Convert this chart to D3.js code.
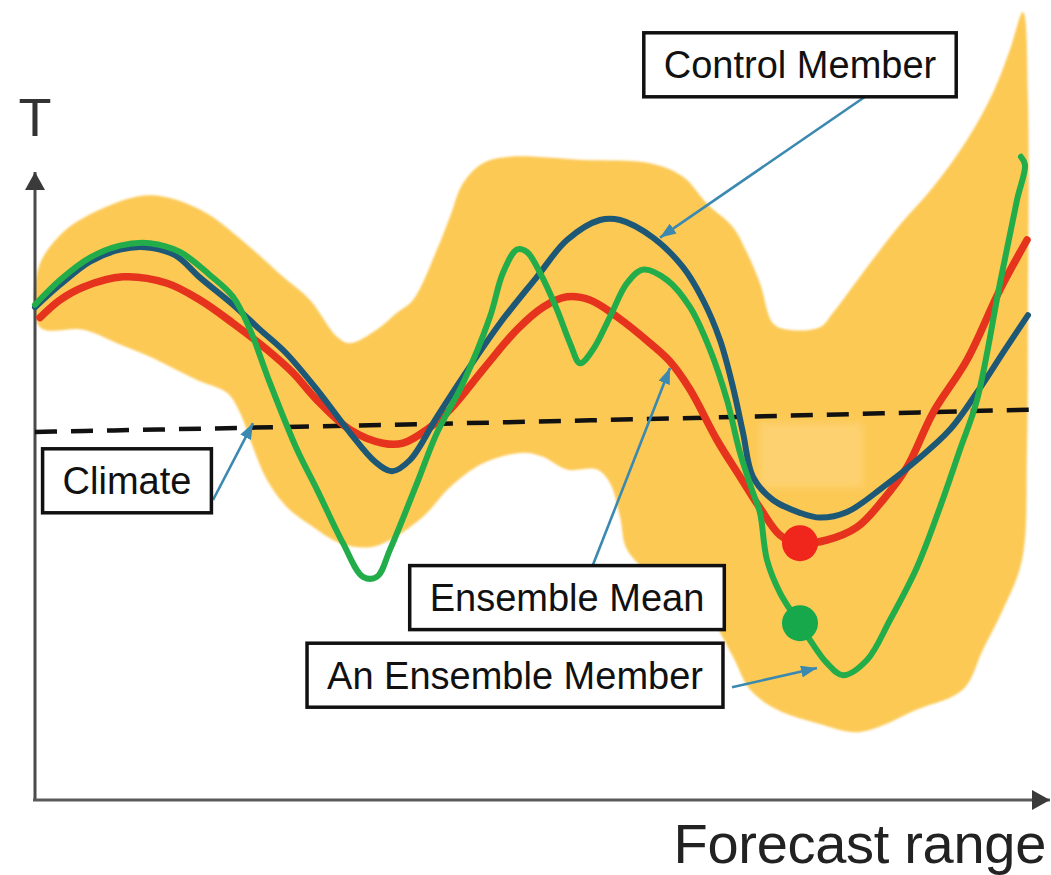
<!DOCTYPE html>
<html><head><meta charset="utf-8">
<script src="https://cdn.jsdelivr.net/npm/d3@7"></script>
<style>html,body{margin:0;padding:0;background:#fff;} svg{display:block;}</style>
</head><body>
<svg id="chart" width="1051" height="875"></svg>
<script>
// ---- data (x: forecast range 0-100, T: arbitrary temperature units 0-100) ----
const controlMember = [[0,61.6],[2.5,64.4],[5.5,67.3],[8.5,68.8],[11,69.1],[14,68.1],[16.5,65.3],[19.8,61.9],[22.5,58.8],[25,56],[28.2,51.3],[31.5,45.9],[34,42.3],[35.7,41.1],[37.5,42.5],[40.2,47.9],[42.8,52.9],[46.5,59.6],[50.2,65.4],[53.2,70],[56.5,72.5],[58.5,72.5],[61.8,70.3],[64.8,66.6],[66.8,62.5],[68.5,57.5],[69.8,51.6],[70.8,45.9],[71.8,40.4],[73.8,37.5],[76.5,35.9],[78.5,35.3],[81.2,36],[84.8,39.1],[88.2,42.5],[91.5,46.3],[94.5,51.5],[97,56.3],[99.3,60.6]];
const ensembleMean = [[0.5,60.3],[2.5,62.5],[4.8,64.1],[8.8,65.4],[13.2,64.6],[16.5,62.5],[19.8,59.6],[23.2,56.3],[25.8,53.4],[28.2,50],[31.5,46.3],[34.8,44.6],[36.8,44.6],[39.2,46.3],[41.5,48.8],[44.8,53.8],[48.2,58.8],[50.8,61.6],[53.2,62.9],[55.5,62.5],[58.2,60.4],[61.5,57.1],[63.5,54.8],[65.5,51.3],[68.2,45],[70.5,40.4],[72.5,36.5],[74.5,33.1],[76.2,32.1],[79.2,32.5],[82.2,34.1],[84.8,37.5],[87.2,41.6],[89.8,48.4],[93.2,55],[96.5,63.8],[99.2,70]];
const ensembleMember = [[0,61.9],[2.5,65],[5.5,67.8],[8.5,69.3],[11.5,69.6],[14.5,68.5],[17.5,65.6],[19.8,62.9],[21.5,58.8],[23.5,52.1],[26.2,43.8],[28.2,38.8],[30.8,32.1],[32.8,27.9],[34.2,27.9],[35.5,31.3],[38.2,39.6],[40.2,45.9],[42.8,52.1],[45.5,60.4],[46.8,65.9],[48.2,68.8],[49.2,68.5],[50.5,65.9],[52.2,61.3],[53.5,57.1],[54.5,54.6],[55.8,56.3],[57.5,60.4],[59.2,64.6],[60.8,66.3],[63.2,65],[65.5,61.6],[67.5,56.3],[69.2,50],[70.5,43.4],[71.8,38.4],[72.5,35.9],[73.2,30],[74.5,25.9],[76.2,22.5],[77.5,20],[79.2,17.1],[80.8,15.6],[83.2,17.5],[85.5,22.5],[88.2,29.1],[90.5,36.6],[92.5,43.8],[94.2,50],[96.5,64.6],[98.2,75],[99,79.4],[98.6,80.4]];
const climate = [[0,46],[50,47.3],[99.5,48.8]];
const spreadOutline = [[0.3,66.3],[2.5,70.6],[6.5,73.8],[11.5,75.6],[16.5,73.8],[21.5,69.1],[24.8,65.4],[27.5,62.5],[30.2,57.9],[31.5,57.1],[34.2,58.8],[36.2,60.9],[37.8,62.5],[40.2,68.8],[41.5,72.9],[42.8,77.1],[44.8,79.6],[47.5,80.4],[54.8,80],[61.5,79.6],[64.8,77.9],[67.3,74.4],[69.8,71.6],[71.2,68.4],[72.5,64.6],[73.8,59.6],[75.2,58.8],[78.5,59.1],[79.8,60.9],[83.2,66.6],[86.5,71.9],[89.8,76.6],[93.2,82.5],[95.8,88.4],[97.5,93.8],[98.8,98.5],[99.3,87.5],[99.3,62.5],[99.2,43.8],[98.7,30],[96.8,23.8],[94.8,18.8],[92.8,13.8],[88.2,11.3],[82.5,8.5],[78.2,9.6],[74.2,11.3],[71.5,13.8],[69.8,17.9],[67.5,22.9],[65.5,25.3],[62,27.8],[59.2,31.3],[58.5,35.4],[57.5,39.6],[56.2,41.3],[53.2,41.3],[50.8,42.9],[48.8,43.4],[44.8,42.1],[41.5,39.1],[38.8,35.4],[35.5,32.5],[33.5,31.6],[30.5,32.1],[27.5,34.4],[25.2,36.6],[23.2,40],[21.8,44.1],[20.5,48.4],[19.2,50.9],[16.2,52.5],[11.5,55.4],[8.2,57.1],[4.8,58.8],[0.5,59.1]];
const paleBox = [[72.5,47.1],[82.8,39.1]];
const highlightPoints = [{name:"mean", x:76.5, t:32.1}, {name:"member", x:76.5, t:22.1}];
const annotations = [
  {text:"Control Member", cx:76.5, ct:91.9, from:[83,87.9], to:[62.5,70.3]},
  {text:"Climate", cx:9.2, ct:39.9, from:[17.8,37.5], to:[21.8,47.1]},
  {text:"Ensemble Mean", cx:53.2, ct:25.3, from:[55.8,29.4], to:[63.5,54]},
  {text:"An Ensemble Member", cx:48, ct:15.6, from:[69.7,14.1], to:[78.2,16.5]}
];
const axisLabels = {y:"T", x:"Forecast range"};

// ---- scales ----
const svg = d3.select("#chart");
const x = d3.scaleLinear().domain([0,100]).range([35,1035]);
const y = d3.scaleLinear().domain([0,100]).range([800,0]);
const FONT = "'Liberation Sans', Arial, Helvetica, sans-serif";

const defs = svg.append("defs");
defs.append("filter").attr("id","soft").append("feGaussianBlur").attr("stdDeviation",1.3);
defs.append("filter").attr("id","soft2").append("feGaussianBlur").attr("stdDeviation",3);
function marker(id, color, w, h){
  defs.append("marker").attr("id",id).attr("viewBox",`0 0 ${w} ${h}`)
    .attr("refX",w).attr("refY",h/2).attr("markerWidth",w).attr("markerHeight",h)
    .attr("markerUnits","userSpaceOnUse").attr("orient","auto")
    .append("path").attr("d",`M0,0L${w},${h/2}L0,${h}Z`).attr("fill",color);
}
marker("axArrow","#3a3a3a",18,20);
marker("callArrow","#3b89b0",16,12);

// spread band
svg.append("path").datum(spreadOutline)
  .attr("d", d3.line().x(d=>x(d[0])).y(d=>y(d[1])).curve(d3.curveCatmullRomClosed.alpha(0.5)))
  .attr("fill","#fcc954").attr("filter","url(#soft)");
svg.append("rect")
  .attr("x",x(paleBox[0][0])).attr("y",y(paleBox[0][1]))
  .attr("width",x(paleBox[1][0])-x(paleBox[0][0])).attr("height",y(paleBox[1][1])-y(paleBox[0][1]))
  .attr("fill","#fdd170").attr("filter","url(#soft2)");

// axes
svg.append("line").attr("x1",x(0)).attr("y1",y(0)).attr("x2",x(0)).attr("y2",y(78.5))
  .attr("stroke","#4a4a4a").attr("stroke-width",3).attr("marker-end","url(#axArrow)");
svg.append("line").attr("x1",x(0)-2).attr("y1",y(0)).attr("x2",x(101.5)).attr("y2",y(0))
  .attr("stroke","#5a5a5a").attr("stroke-width",3.2).attr("marker-end","url(#axArrow)");
svg.append("text").attr("x",x(0)).attr("y",y(83)).attr("text-anchor","middle")
  .attr("font-family",FONT).attr("font-size",54).attr("fill","#333").text(axisLabels.y);
svg.append("text").attr("x",1046).attr("y",863).attr("text-anchor","end")
  .attr("font-family",FONT).attr("font-size",56).attr("letter-spacing",-0.3).attr("fill","#222").text(axisLabels.x);

// climate
svg.append("path").datum(climate)
  .attr("d", d3.line().x(d=>x(d[0])).y(d=>y(d[1])).curve(d3.curveMonotoneX))
  .attr("fill","none").attr("stroke","#111").attr("stroke-width",4.5).attr("stroke-dasharray","22,14");

const lineGen = d3.line().x(d=>x(d[0])).y(d=>y(d[1])).curve(d3.curveCatmullRom.alpha(0.5));
const series = [
  {data:ensembleMean, color:"#e5331d", w:7.5},
  {data:controlMember, color:"#1e5877", w:6},
  {data:ensembleMember, color:"#22ad4a", w:6}
];
svg.selectAll(".series").data(series).join("path").attr("class","series")
  .attr("d", d=>lineGen(d.data)).attr("fill","none")
  .attr("stroke", d=>d.color).attr("stroke-width", d=>d.w)
  .attr("stroke-linecap","round").attr("stroke-linejoin","round");

svg.selectAll(".dot").data(highlightPoints).join("circle").attr("class","dot")
  .attr("cx", d=>x(d.x)).attr("cy", d=>y(d.t)).attr("r",18)
  .attr("fill", d=>d.name==="mean" ? "#f0261c" : "#17a84b");

// annotations
const ann = svg.selectAll(".ann").data(annotations).join("g").attr("class","ann");
ann.append("line")
  .attr("x1",d=>x(d.from[0])).attr("y1",d=>y(d.from[1]))
  .attr("x2",d=>x(d.to[0])).attr("y2",d=>y(d.to[1]))
  .attr("stroke","#3b89b0").attr("stroke-width",2.6).attr("marker-end","url(#callArrow)");
ann.each(function(d){
  const g = d3.select(this);
  const rect = g.append("rect");
  const t = g.append("text").attr("x",x(d.cx)).attr("y",y(d.ct)+13.5)
    .attr("text-anchor","middle").attr("font-family",FONT).attr("font-size",38)
    .attr("fill","#111").text(d.text);
  const w = t.node().getComputedTextLength() + 40;
  rect.attr("x",x(d.cx)-w/2).attr("y",y(d.ct)-32).attr("width",w).attr("height",64)
    .attr("fill","#fff").attr("stroke","#111").attr("stroke-width",3.5);
});
</script>
</body></html>
